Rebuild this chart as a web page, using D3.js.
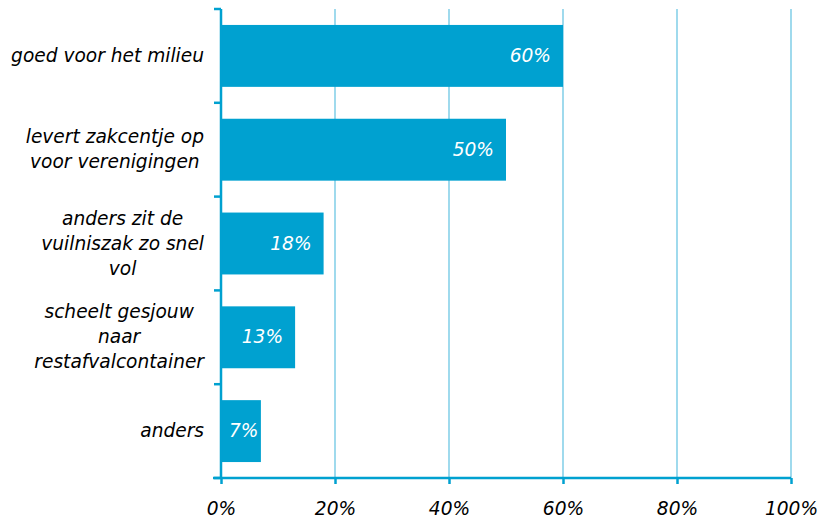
<!DOCTYPE html>
<html><head><meta charset="utf-8">
<script src="https://cdn.jsdelivr.net/npm/d3@7"></script>
<style>body{margin:0;background:#fff}svg{display:block}text{font-family:"DejaVu Sans",Verdana,sans-serif;font-style:italic}</style>
</head><body>
<svg id="c" width="827" height="522"></svg>
<script>
const categories = [
  ["goed voor het milieu"],
  ["levert zakcentje op","voor verenigingen"],
  ["anders zit de","vuilniszak zo snel","vol"],
  ["scheelt gesjouw","naar","restafvalcontainer"],
  ["anders"]
];
const values = [60, 50, 18, 13, 7];
const tickValues = [0, 20, 40, 60, 80, 100];

const svg = d3.select("#c");
const mLeft = 221, mRight = 791, mTop = 9, mBottom = 478;
const blue = "#00A1D0", grid = "#6CC6E4";
const fs = 18.6;
const x = d3.scaleLinear().domain([0, 100]).range([mLeft, mRight]);
const y = d3.scaleBand().domain(d3.range(categories.length)).range([mTop, mBottom]).paddingInner(0.34).paddingOuter(0.17);

// gridlines
svg.append("g").selectAll("line").data(tickValues.filter(d => d > 0)).join("line")
  .attr("x1", d => x(d)).attr("x2", d => x(d)).attr("y1", mTop).attr("y2", mBottom)
  .attr("stroke", grid).attr("stroke-width", 1.3);

// bars
svg.append("g").selectAll("rect").data(values).join("rect")
  .attr("x", x(0)).attr("y", (d, i) => y(i)).attr("width", d => x(d) - x(0)).attr("height", y.bandwidth())
  .attr("fill", blue);

// x axis
const xa = svg.append("g").attr("transform", `translate(0,${mBottom})`)
  .call(d3.axisBottom(x).tickValues(tickValues).tickFormat(d => d + "%").tickSize(6).tickPadding(18));
xa.select(".domain").attr("stroke", blue).attr("stroke-width", 2.5).attr("d", `M${mLeft-8},0H${mRight}`);
xa.selectAll(".tick line").attr("stroke", blue).attr("stroke-width", 2.5);
xa.selectAll(".tick text").attr("font-size", fs).attr("fill", "#000").attr("font-family", null);

// y axis
const step = (mBottom - mTop) / categories.length;
const ya = svg.append("g");
ya.append("line").attr("x1", mLeft).attr("x2", mLeft).attr("y1", mTop).attr("y2", mBottom).attr("stroke", blue).attr("stroke-width", 2.5);
ya.selectAll("line.t").data(d3.range(categories.length + 1)).join("line").attr("class", "t")
  .attr("x1", mLeft - 7).attr("x2", mLeft).attr("y1", d => mTop + d * step).attr("y2", d => mTop + d * step)
  .attr("stroke", blue).attr("stroke-width", 2.5);

// category labels
const lh = 25;
categories.forEach((lines, i) => {
  const cy = y(i) + y.bandwidth() / 2;
  const g = svg.append("g");
  const ts = lines.map((l, j) => g.append("text").attr("font-size", fs).attr("fill", "#000")
    .attr("text-anchor", "middle").attr("y", cy + (j - (lines.length - 1) / 2) * lh + 6).text(l));
  const w = d3.max(ts, t => t.node().getComputedTextLength());
  ts.forEach(t => t.attr("x", 204 - w / 2));
});

// value labels
svg.append("g").selectAll("text").data(values).join("text")
  .attr("font-size", fs).attr("fill", "#fff").attr("text-anchor", "end")
  .attr("y", (d, i) => y(i) + y.bandwidth() / 2 + 6).text(d => d + "%")
  .each(function(d) {
    const w = this.getComputedTextLength();
    const xe = Math.max(x(d) - 12, x(0) + 8 + w);
    d3.select(this).attr("x", xe);
  });
</script>
</body></html>
